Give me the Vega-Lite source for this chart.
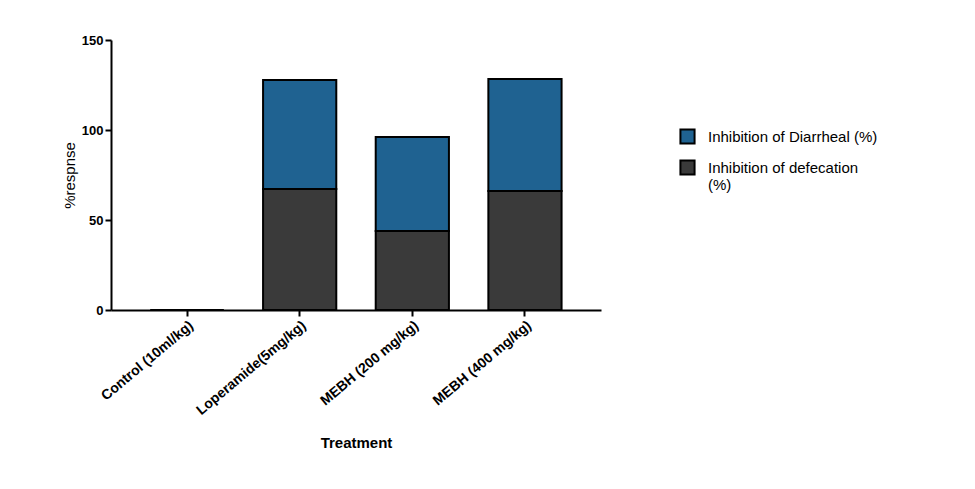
{
  "$schema": "https://vega.github.io/schema/vega-lite/v6.json",
  "width": 490,
  "height": 270,
  "padding": {"left": 62, "top": 34, "right": 10, "bottom": 10},
  "background": "white",
  "config": {"font": "Liberation Sans", "view": {"stroke": null}},
  "data": {"values": [
    {"t": "Control (10ml/kg)", "s": "Inhibition of defecation (%)", "o": 1, "v": 0},
    {"t": "Control (10ml/kg)", "s": "Inhibition of Diarrheal (%)", "o": 2, "v": 0},
    {"t": "Loperamide(5mg/kg)", "s": "Inhibition of defecation (%)", "o": 1, "v": 67.2},
    {"t": "Loperamide(5mg/kg)", "s": "Inhibition of Diarrheal (%)", "o": 2, "v": 60.6},
    {"t": "MEBH (200 mg/kg)", "s": "Inhibition of defecation (%)", "o": 1, "v": 43.9},
    {"t": "MEBH (200 mg/kg)", "s": "Inhibition of Diarrheal (%)", "o": 2, "v": 52.2},
    {"t": "MEBH (400 mg/kg)", "s": "Inhibition of defecation (%)", "o": 1, "v": 66.1},
    {"t": "MEBH (400 mg/kg)", "s": "Inhibition of Diarrheal (%)", "o": 2, "v": 62.2}
  ]},
  "mark": {"type": "bar", "stroke": "black", "strokeWidth": 2},
  "encoding": {
    "x": {"field": "t", "type": "nominal", "sort": null,
      "scale": {"paddingInner": 0.35, "paddingOuter": 0.35},
      "axis": {"title": "Treatment", "titleFontSize": 15, "titleFontWeight": "bold", "titlePadding": 18,
        "labelAngle": -40, "labelFontSize": 14, "labelFontWeight": "bold", "labelColor": "black",
        "domainColor": "black", "domainWidth": 2, "tickColor": "black", "tickWidth": 2, "tickSize": 6}},
    "y": {"field": "v", "type": "quantitative", "stack": "zero",
      "scale": {"domain": [0, 150]},
      "axis": {"title": "%respnse", "titleFontSize": 15, "titleFontWeight": "normal", "titleColor": "black",
        "values": [0, 50, 100, 150], "grid": false, "labelFontSize": 13, "labelFontWeight": "bold", "labelColor": "black",
        "domainColor": "black", "domainWidth": 2, "tickColor": "black", "tickWidth": 2, "tickSize": 6}},
    "order": {"field": "o"},
    "color": {"field": "s", "type": "nominal",
      "scale": {"domain": ["Inhibition of Diarrheal (%)", "Inhibition of defecation (%)"], "range": ["#1f6291", "#3a3a3a"]},
      "legend": {"title": null, "orient": "none", "legendX": 568, "legendY": 88, "symbolType": "square", "symbolSize": 200,
        "symbolStrokeColor": "black", "symbolStrokeWidth": 2, "labelFontSize": 15, "labelColor": "black",
        "labelLimit": 300, "rowPadding": 8, "labelOffset": 12,
        "labelExpr": "datum.label == 'Inhibition of defecation (%)' ? ['Inhibition of defecation', '(%)'] : datum.label"}}
  }
}
